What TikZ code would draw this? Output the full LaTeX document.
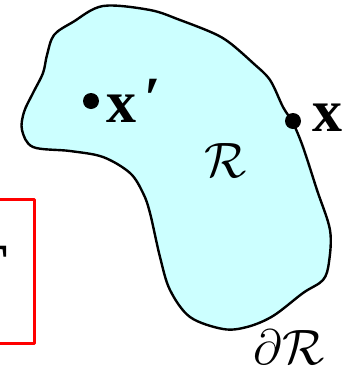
\documentclass[tikz,border=0pt]{standalone}
\usepackage{amsmath,amssymb}
\usepackage{fontspec}
\setmainfont{Liberation Serif}
\usepackage{tikz}
\usetikzlibrary{positioning}
\usepackage{xcolor}
\definecolor{regioncyan}{RGB}{204,255,255}

\begin{document}
\begin{tikzpicture}[x=0.5pt,y=-0.5pt,line cap=round,line join=round,
  font=\fontsize{30}{36}\selectfont,
  dotpt/.style={circle,fill=black,inner sep=0pt,minimum size=8pt},
  lbl/.style={inner sep=0pt,anchor=center}]
\useasboundingbox (0,0) rectangle (353,370);
% red frame on the left, mostly cut off
\draw[red,line width=1.5pt] (-60,199) rectangle (34,343);
\node[lbl,anchor=north east] (leftlbl) at (8,246) {\textbf{T}};
% the region
\draw[black,line width=1.2pt,fill=regioncyan] plot[smooth cycle,tension=0.55] coordinates {
  (103,6) (73,22) (54,35) (47,55) (43,73) (33,93) (24,112) (22,130) (33,147)
  (70,151) (103,157) (130,173) (143,193) (150,213) (160,257) (170,290)
  (190,317) (223,329) (247,327) (273,316) (303,293) (323,280) (329,262)
  (330,230) (317,190) (303,147) (293,123) (283,107) (270,80) (253,63)
  (230,43) (213,33) (180,20) (150,10)};
% points
\node[dotpt] (xp) at (91,101) {};
\node[dotpt] (xb) at (293,121) {};
\node[lbl,anchor=west] (xplbl) at (106,101) {\textbf{x}\hspace{4pt}\raisebox{2pt}{\textbf{′}}};
\node[lbl,anchor=west] (xblbl) at (312,118) {\textbf{x}};
\node[lbl] (rlbl) at (226,160) {$\mathcal{R}$};
\node[lbl] (brlbl) at (289,347) {$\partial\mathcal{R}$};
\end{tikzpicture}
\end{document}
